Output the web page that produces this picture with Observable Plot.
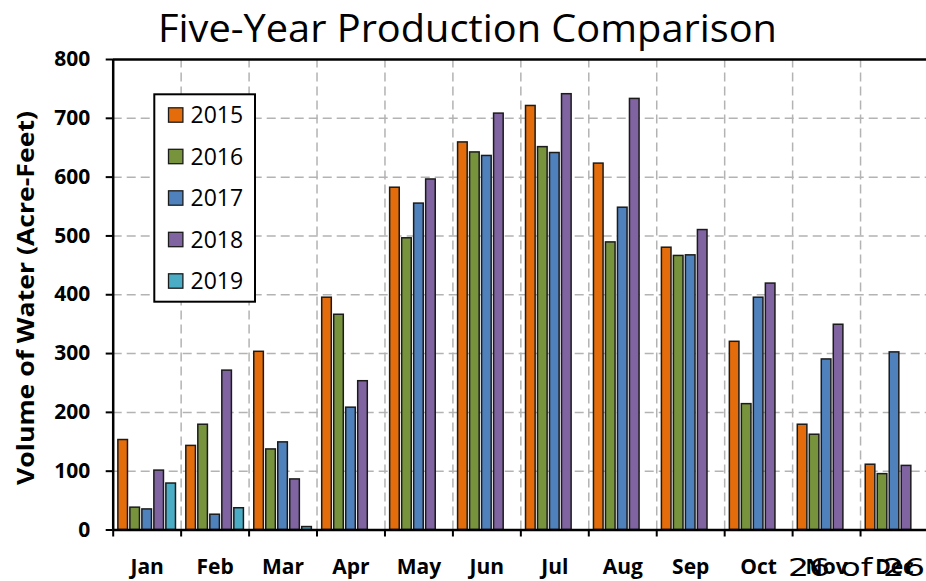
<!DOCTYPE html>
<html><head><meta charset="utf-8">
<script src="https://cdn.jsdelivr.net/npm/d3@7"></script>
<script src="https://cdn.jsdelivr.net/npm/@observablehq/plot@0.6"></script>
<style>
html,body{margin:0;padding:0;overflow:hidden;background:#fff;}
#chart svg{display:block;max-width:none !important;height:581px !important;}
</style></head><body><div id="chart"></div>
<script>
// ---- data ----
const months = ["Jan","Feb","Mar","Apr","May","Jun","Jul","Aug","Sep","Oct","Nov","Dec"];
const years = ["2015","2016","2017","2018","2019"];
const colors = ["#E46C0A","#77933C","#4F81BD","#8064A2","#4BACC6"];
const v2015 = [153, 143, 303, 395, 582, 659, 721, 623, 480, 320, 179, 111];
const v2016 = [38, 179, 137, 366, 496, 642, 651, 489, 466, 214, 162, 95];
const v2017 = [35, 26, 149, 208, 555, 636, 641, 548, 467, 395, 290, 302];
const v2018 = [101, 271, 86, 253, 596, 708, 741, 733, 510, 419, 349, 109];
const v2019 = [79, 37, 5, null, null, null, null, null, null, null, null, null];
const yTicks = [0, 100, 200, 300, 400, 500, 600, 700, 800];
const titleText = "Five-Year Production Comparison";
const yLabel = "Volume of Water (Acre-Feet)";
const pageNote = "26 of 26";

const series = [v2015, v2016, v2017, v2018, v2019];
const rows = years.flatMap((yr, i) => months.map((m, j) => ({month: m, year: yr, value: series[i][j]})).filter(d => d.value != null));

// ---- layout ----
const W = 930, H = 581, mL = 112.7, mR = 2, mT = 59, mB = 51.5;
const bw = (W - mL - mR) / months.length;
const slot = 12, barW = 9.6;
const inset = (bw - barW) / 2;
const unitsPerPx = 800 / (H - mT - mB);
const grid = {stroke: "#b3b3b3", strokeWidth: 1.5, strokeDasharray: "9,5"};
const font = "'Open Sans', sans-serif";

const plot = Plot.plot({
  width: W, height: H,
  marginLeft: mL, marginRight: mR, marginTop: mT, marginBottom: mB,
  style: {fontFamily: font, background: "#fff", overflow: "visible", color: "#000"},
  x: {type: "band", domain: months, padding: 0, round: false, axis: null},
  y: {domain: [0, 800], axis: null},
  color: {domain: years, range: colors},
  marks: [
    Plot.ruleY(yTicks.filter(t => t > 0 && t < 800), grid),
    Plot.ruleX(months.slice(1), {x: d => d, y1: 0, y2: 800, dx: -bw / 2, ...grid}),
    ...years.map((yr, i) => Plot.barY(rows.filter(d => d.year === yr), {
      x: "month", y: "value", fill: "year", dx: (i - 2) * slot,
      insetLeft: inset, insetRight: inset,
      stroke: "#1b1b1b", strokeWidth: 1.5
    })),
    // axes lines
    Plot.ruleY([800], {stroke: "#000", strokeWidth: 2.5}),
    Plot.ruleY([0], {stroke: "#000", strokeWidth: 2.5}),
    Plot.ruleX([months[0]], {x: d => d, y1: 0, y2: 800, dx: -bw / 2, stroke: "#000", strokeWidth: 2.5}),
    // x ticks at category boundaries
    Plot.ruleX(months, {x: d => d, y1: 0, y2: -7 * unitsPerPx, dx: -bw / 2, stroke: "#000", strokeWidth: 2}),
    // y ticks
    Plot.axisY({ticks: yTicks, tickSize: 7, tickPadding: 16, label: null, fontSize: 21, fontWeight: "bold", strokeWidth: 2, stroke: "#000", fill: "#000"}),
    // x labels
    Plot.text(months, {x: d => d, y: 0, dy: 37, text: d => d, fontSize: 21, fontWeight: "bold", fill: "#000"})
  ]
});

const svg = d3.select(plot);
// title
svg.append("text").attr("x", 467.5).attr("y", 42).attr("text-anchor", "middle")
  .attr("font-family", font).attr("font-size", 38).attr("fill", "#000")
  .attr("textLength", 619).attr("lengthAdjust", "spacingAndGlyphs").text(titleText);
// y label
svg.append("text").attr("transform", "translate(34,298) rotate(-90)").attr("text-anchor", "middle")
  .attr("font-family", font).attr("font-size", 24).attr("font-weight", "bold").attr("fill", "#000")
  .attr("textLength", 374).attr("lengthAdjust", "spacingAndGlyphs").text(yLabel);
// legend
const lg = svg.append("g");
lg.append("rect").attr("x", 154.3).attr("y", 94.3).attr("width", 100.7).attr("height", 207.4)
  .attr("fill", "#fff").attr("stroke", "#000").attr("stroke-width", 2);
years.forEach((yr, i) => {
  const cy = 115 + i * 41.5;
  lg.append("rect").attr("x", 168.5).attr("y", cy - 7.2).attr("width", 14.4).attr("height", 14.4)
    .attr("fill", colors[i]).attr("stroke", "#1b1b1b").attr("stroke-width", 1.3);
  lg.append("text").attr("x", 190.5).attr("y", cy + 8.3).attr("text-anchor", "start").attr("font-family", font)
    .attr("font-size", 23).attr("fill", "#000").text(yr);
});
// page note
svg.append("text").attr("x", 788).attr("y", 576).attr("text-anchor", "start")
  .attr("font-family", "'DejaVu Sans', sans-serif")
  .attr("font-size", 24).attr("fill", "#000")
  .attr("textLength", 137).attr("lengthAdjust", "spacingAndGlyphs").text(pageNote);

document.getElementById("chart").appendChild(plot);
</script></body></html>
